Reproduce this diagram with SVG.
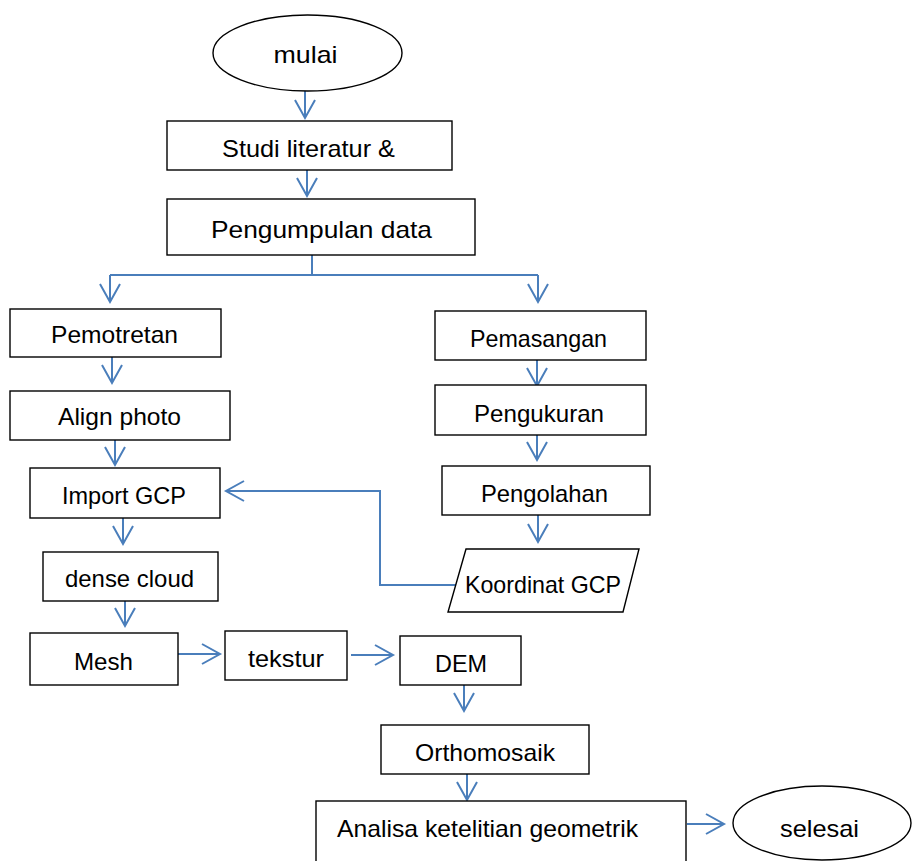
<svg xmlns="http://www.w3.org/2000/svg" width="912" height="861" viewBox="0 0 912 861">
<style>
.n{fill:#fff;stroke:#000;stroke-width:1.4}
.t{font-family:"Liberation Sans",Arial,sans-serif;font-size:24px;fill:#000;text-anchor:middle}
.c{fill:none;stroke:#4a7ebb;stroke-width:2}
</style>
<defs>
<marker id="ah" viewBox="-20 -12 22 24" markerWidth="22" markerHeight="24" refX="0" refY="0" orient="auto" markerUnits="userSpaceOnUse" overflow="visible">
<path d="M-18,-10 L0,0 L-18,10" fill="none" stroke="#4a7ebb" stroke-width="2"/>
</marker>
</defs>
<rect width="912" height="861" fill="#fff"/>
<g id="connectors">
<path class="c" d="M305,91 L305,118" marker-end="url(#ah)"/>
<path class="c" d="M307,170 L307,196" marker-end="url(#ah)"/>
<path class="c" d="M312,255 L312,275 M110,275 L538,275"/>
<path class="c" d="M110,275 L110,302" marker-end="url(#ah)"/>
<path class="c" d="M538,275 L538,302" marker-end="url(#ah)"/>
<path class="c" d="M112,357 L112,383" marker-end="url(#ah)"/>
<path class="c" d="M115,440 L115,465" marker-end="url(#ah)"/>
<path class="c" d="M123,518 L123,544" marker-end="url(#ah)"/>
<path class="c" d="M125,601 L125,626" marker-end="url(#ah)"/>
<path class="c" d="M178,654 L220,654" marker-end="url(#ah)"/>
<path class="c" d="M351,655 L393,655" marker-end="url(#ah)"/>
<path class="c" d="M464,685 L464,711" marker-end="url(#ah)"/>
<path class="c" d="M467,774 L467,800" marker-end="url(#ah)"/>
<path class="c" d="M687,824 L724,824" marker-end="url(#ah)"/>
<path class="c" d="M537,360 L537,386" marker-end="url(#ah)"/>
<path class="c" d="M537,435 L537,460" marker-end="url(#ah)"/>
<path class="c" d="M538,515 L538,542" marker-end="url(#ah)"/>
<path class="c" d="M458,585 L380,585 L380,491 L226,491" marker-end="url(#ah)"/>
</g>
<g id="mulai"><ellipse class="n" cx="307.5" cy="53" rx="94.5" ry="38"/><text class="t" x="305.5" y="63" font-size="26" textLength="64" lengthAdjust="spacingAndGlyphs">mulai</text></g>
<g id="studi"><rect class="n" x="167" y="121" width="285" height="49"/><text class="t" x="308.5" y="157" textLength="173" lengthAdjust="spacingAndGlyphs">Studi literatur &amp;</text></g>
<g id="pengumpulan"><rect class="n" x="167" y="199" width="308" height="56"/><text class="t" x="321.5" y="238" font-size="26" textLength="221" lengthAdjust="spacingAndGlyphs">Pengumpulan data</text></g>
<g id="pemotretan"><rect class="n" x="10" y="309" width="211" height="48"/><text class="t" x="114.5" y="343" textLength="127" lengthAdjust="spacingAndGlyphs">Pemotretan</text></g>
<g id="align"><rect class="n" x="10" y="391" width="220" height="49"/><text class="t" x="119.5" y="425" textLength="123" lengthAdjust="spacingAndGlyphs">Align photo</text></g>
<g id="pemasangan"><rect class="n" x="435" y="311" width="211" height="49"/><text class="t" x="538.5" y="347" textLength="137" lengthAdjust="spacingAndGlyphs">Pemasangan</text></g>
<g id="pengukuran"><rect class="n" x="435" y="385" width="211" height="50"/><text class="t" x="539" y="422" textLength="130" lengthAdjust="spacingAndGlyphs">Pengukuran</text></g>
<g id="import"><rect class="n" x="30" y="468" width="190" height="50"/><text class="t" x="124" y="504" textLength="124" lengthAdjust="spacingAndGlyphs">Import GCP</text></g>
<g id="pengolahan"><rect class="n" x="442" y="466" width="208" height="49"/><text class="t" x="544.5" y="502" textLength="127" lengthAdjust="spacingAndGlyphs">Pengolahan</text></g>
<g id="koordinat"><polygon class="n" points="466,549 639,549 623,612 448,612"/><text class="t" x="543" y="593" textLength="156" lengthAdjust="spacingAndGlyphs">Koordinat GCP</text></g>
<g id="dense"><rect class="n" x="43" y="552" width="175" height="49"/><text class="t" x="129.5" y="587" textLength="129" lengthAdjust="spacingAndGlyphs">dense cloud</text></g>
<g id="mesh"><rect class="n" x="30" y="633" width="148" height="52"/><text class="t" x="103.5" y="670" textLength="59" lengthAdjust="spacingAndGlyphs">Mesh</text></g>
<g id="tekstur"><rect class="n" x="225" y="631" width="122" height="49"/><text class="t" x="286" y="667" textLength="76" lengthAdjust="spacingAndGlyphs">tekstur</text></g>
<g id="dem"><rect class="n" x="400" y="636" width="121" height="49"/><text class="t" x="461" y="672" textLength="52" lengthAdjust="spacingAndGlyphs">DEM</text></g>
<g id="orthomosaik"><rect class="n" x="381" y="725" width="208" height="49"/><text class="t" x="485" y="761" textLength="140" lengthAdjust="spacingAndGlyphs">Orthomosaik</text></g>
<g id="analisa"><rect class="n" x="316" y="801" width="370" height="80"/><text class="t" x="487.5" y="837" textLength="301" lengthAdjust="spacingAndGlyphs">Analisa ketelitian geometrik</text></g>
<g id="selesai"><ellipse class="n" cx="822" cy="823" rx="89" ry="37"/><text class="t" x="819.5" y="837" font-size="25" textLength="79" lengthAdjust="spacingAndGlyphs">selesai</text></g>
</svg>
